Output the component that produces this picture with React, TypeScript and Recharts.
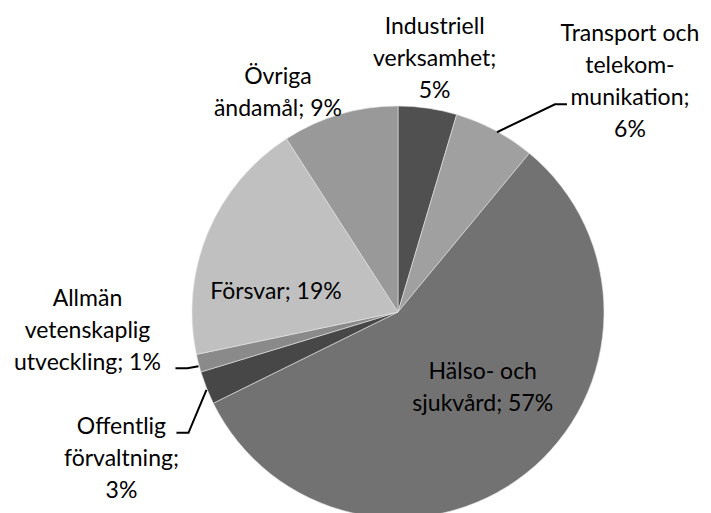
import { PieChart, Pie, Cell } from 'recharts'

// Share of spending per area (percent), read clockwise from 12 o'clock
const categories = [
  'Industriell verksamhet',
  'Transport och telekommunikation',
  'Hälso- och sjukvård',
  'Offentlig förvaltning',
  'Allmän vetenskaplig utveckling',
  'Försvar',
  'Övriga ändamål',
]
const shares = [4.6, 6.4, 56.7, 2.6, 1.4, 19.2, 9.1]

// How each name is wrapped in its label
const labelLines = [
  ['Industriell', 'verksamhet;'],
  ['Transport och', 'telekom-', 'munikation;'],
  ['Hälso- och', 'sjukvård;'],
  ['Offentlig', 'förvaltning;'],
  ['Allmän', 'vetenskaplig', 'utveckling;'],
  ['Försvar;'],
  ['Övriga', 'ändamål;'],
]
const pctOnOwnLine = [true, true, false, true, false, false, false]

const COLORS = ['#505050', '#a0a0a0', '#727272', '#474747', '#8a8a8a', '#c0c0c0', '#999999']

// label block offsets from the slice's outer edge point, plus leader lines
const LAYOUT = [
  { dx: 7, dy: -51 },
  { dx: 135, dy: -50, leader: [[2, 2], [60, -26], [72, -26]] },
  { dx: -43, dy: -88 },
  { dx: -85, dy: 69, leader: [[0, 2], [-18, 45], [-30, 45]] },
  { dx: -111, dy: -34, leader: [[0, 3], [-11, 5], [-23, 5]] },
  { dx: 68, dy: 57 },
  { dx: -62, dy: -23 },
]

const LINE_H = 32
const RAD = Math.PI / 180

const data = categories.map((name, i) => ({ name, value: shares[i] }))

function renderLabel(props: any) {
  const { cx, cy, midAngle, outerRadius, index, value } = props
  const ex = cx + outerRadius * Math.cos(-midAngle * RAD)
  const ey = cy + outerRadius * Math.sin(-midAngle * RAD)
  const lay = LAYOUT[index]
  const pct = `${Math.round(value)}%`
  const lines = [...labelLines[index]]
  if (pctOnOwnLine[index]) lines.push(pct)
  else lines[lines.length - 1] = lines[lines.length - 1] + ' ' + pct
  const bx = ex + lay.dx
  const by = ey + lay.dy
  return (
    <g key={`lbl-${index}`}>
      {lay.leader && (
        <polyline
          points={lay.leader.map(p => `${ex + p[0]},${ey + p[1]}`).join(' ')}
          fill="none"
          stroke="#000"
          strokeWidth={2}
        />
      )}
      <text x={bx} y={by} textAnchor="middle" fill="#000" fontSize={23} fontFamily="Lato, 'Open Sans', sans-serif">
        {lines.map((l, i) => (
          <tspan key={i} x={bx} y={by + (i - (lines.length - 1) / 2) * LINE_H} dominantBaseline="central">
            {l}
          </tspan>
        ))}
      </text>
    </g>
  )
}

export default function App() {
  return (
    <div style={{ position: 'absolute', left: 0, top: 0, background: '#fff' }}>
      <PieChart width={711} height={513} margin={{ top: 0, right: 0, bottom: 0, left: 0 }}>
        <Pie
          data={data}
          dataKey="value"
          nameKey="name"
          cx={398}
          cy={312}
          outerRadius={206}
          startAngle={90}
          endAngle={-270}
          stroke="#e6e6e6"
          strokeWidth={0.6}
          label={renderLabel}
          labelLine={false}
          isAnimationActive={false}
        >
          {data.map((entry, index) => (
            <Cell key={`cell-${index}`} fill={COLORS[index]} />
          ))}
        </Pie>
      </PieChart>
    </div>
  )
}
